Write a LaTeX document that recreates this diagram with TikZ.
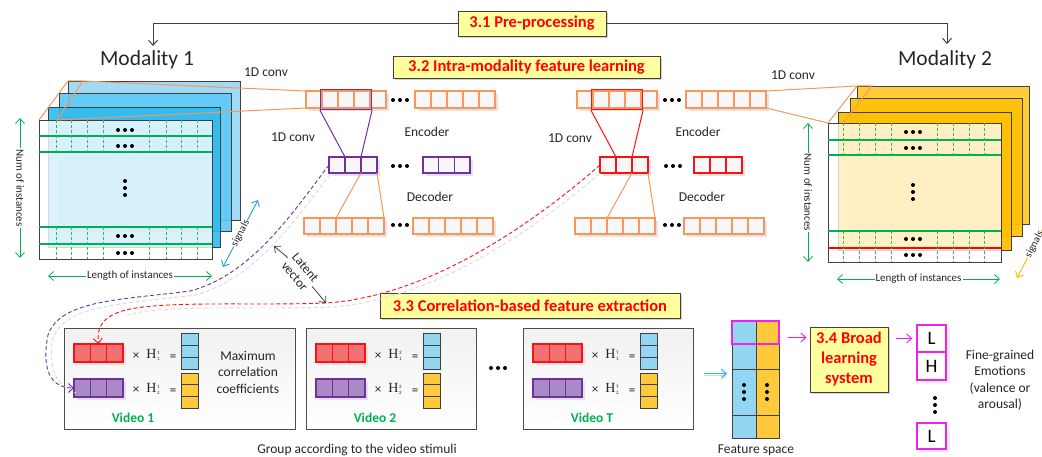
\documentclass[tikz,border=0pt]{standalone}
\usepackage{fontspec}
\setmainfont{Carlito}
\newfontfamily\serifH{Liberation Serif}
\usetikzlibrary{arrows.meta,shadows,calc,fit}

\definecolor{secyel}{HTML}{FFFF9E}
\definecolor{cor}{HTML}{F8965C}
\definecolor{cpur}{HTML}{7030A0}
\definecolor{cred}{HTML}{FF1010}
\definecolor{cgreen}{HTML}{00B050}
\definecolor{cblue}{HTML}{2A9AE0}
\definecolor{lblue}{HTML}{33BBEE}
\definecolor{bA}{HTML}{A0DAF5}
\definecolor{bB}{HTML}{5CC9F5}
\definecolor{bC}{HTML}{2FBAF0}
\definecolor{yA}{HTML}{FFCD38}
\definecolor{yB}{HTML}{FFC20A}
\definecolor{yC}{HTML}{FFC000}
\definecolor{colblue}{HTML}{93D6F2}
\definecolor{colyel}{HTML}{FFC93C}
\definecolor{barred}{HTML}{F07272}
\definecolor{barpur}{HTML}{A98AC6}
\definecolor{cmag}{HTML}{F020F0}
\definecolor{dgray}{HTML}{404040}
\definecolor{cgold}{HTML}{F5B800}
\definecolor{txt}{HTML}{262626}

% row of cells: name, x left, y top, n, w, h, style
\newcommand\cellrow[7]{%
  \fill[gray!22] (#2+3,#3+3) rectangle ++({#4*#5},#6);
  \foreach \i in {1,...,#4}{%
    \node[cell,#7,minimum width=#5,minimum height=#6] (#1-\i) at ({#2+(\i-0.5)*#5},{#3+#6/2}) {};}%
}
% column of cells: name, x left, y top, n, w, h, fill
\newcommand\cellcol[7]{%
  \foreach \i in {1,...,#4}{%
    \node[colcell,fill=#7,minimum width=#5,minimum height=#6] (#1-\i) at ({#2+#5/2},{#3+(\i-0.5)*#6}) {};}%
}
\newcommand\hthree[1]{\fill[black] #1 ++(-7,0) circle (2pt) ++(7,0) circle (2pt) ++(7,0) circle (2pt);}
\newcommand\vthree[1]{\fill[black] #1 ++(0,-7) circle (2pt) ++(0,7) circle (2pt) ++(0,7) circle (2pt);}
% H with stacked indices
\newcommand\Hlab[2]{{\serifH H}\kern0.6pt\raisebox{-1.5pt}{\fontsize{5}{6.5}\selectfont\shortstack[l]{#1\\#2}}}

% video panel: name, left x, width, superscript, label
\newcommand\videopanel[5]{%
  \node[vidbox,minimum width=#3,minimum height=101,anchor=north west] (#1) at (#2,328) {};
  \cellrow{#1r}{#2+10}{344}{3}{16.3}{18}{draw=cred,fill=barred}
  \cellrow{#1p}{#2+10}{379}{3}{16.3}{18}{draw=cpur,fill=barpur}
  \node[opl] (#1xa) at (#2+72,356) {×};
  \node[hl]  (#1ha) at (#2+89,355) {\Hlab{#4}{1}};
  \node[opl] (#1ea) at (#2+109,358) {=};
  \node[opl] (#1xb) at (#2+72,390) {×};
  \node[hl]  (#1hb) at (#2+89,389) {\Hlab{#4}{2}};
  \node[opl] (#1eb) at (#2+109,392) {=};
  \cellcol{#1b}{#2+117}{333}{3}{17}{12}{colblue}
  \cellcol{#1y}{#2+117}{373}{3}{17}{11.7}{colyel}
  \node[vidlab] (#1l) at (#2+69,418) {#5};
}

\begin{document}
\begin{tikzpicture}[x=1pt,y=-1pt,
  lbl/.style={font=\fontsize{13.5}{16.5}\selectfont,text=txt,inner sep=1pt},
  sm/.style={font=\fontsize{11}{13}\selectfont,text=txt,inner sep=1pt},
  modt/.style={font=\fontsize{21.5}{24}\selectfont,text=txt,inner sep=1pt},
  sec/.style={draw=dgray,line width=0.9pt,fill=secyel,text=red,
    font=\bfseries\fontsize{16.5}{20}\selectfont,inner sep=0pt,align=center,
    drop shadow={shadow xshift=2pt,shadow yshift=-2pt,fill=gray!60,opacity=0.6}},
  cell/.style={rectangle,inner sep=0pt,outer sep=0pt,line width=1.3pt,fill=gray!6},
  colcell/.style={rectangle,inner sep=0pt,outer sep=0pt,draw=dgray,line width=1pt},
  vidbox/.style={rectangle,draw=gray!60!black,line width=0.9pt,top color=gray!11,bottom color=white,inner sep=0pt},
  opl/.style={font=\fontsize{13}{14}\selectfont,text=txt,inner sep=0pt},
  hl/.style={font=\fontsize{14}{15}\selectfont,text=txt,inner sep=0pt},
  vidlab/.style={font=\bfseries\fontsize{13.5}{15}\selectfont,text=cgreen,inner sep=0pt},
  orl/.style={draw=cor,line width=1pt},
  layer/.style={draw=dgray,line width=0.9pt},
  gline/.style={draw=cgreen,line width=1.1pt},
  gdash/.style={draw=cgreen!85,line width=0.8pt,dash pattern=on 3pt off 2pt},
  barb/.style={-{Straight Barb[length=5pt,width=9pt]}},
  dbarb/.style={{Straight Barb[length=5pt,width=9pt]}-{Straight Barb[length=5pt,width=9pt]}},
  garr/.style={dbarb,draw=cgreen,line width=0.8pt},
  topl/.style={barb,draw=dgray,line width=1pt},
  latarr/.style={barb,draw=dgray,line width=0.8pt},
  pdash/.style={draw=cpur,line width=0.9pt,dash pattern=on 4pt off 2.5pt},
  rdash/.style={draw=cred,line width=0.9pt,dash pattern=on 4pt off 2.5pt},
  sdash/.style={draw=gray!30,line width=0.9pt,dash pattern=on 4pt off 2.5pt},
  marr/.style={barb,draw=cmag,line width=1pt},
  lbox/.style={rectangle,draw=cmag,line width=1.3pt,fill=white,inner sep=0pt,
    minimum width=29,font=\fontsize{19}{20}\selectfont,text=black,
    drop shadow={shadow xshift=4pt,shadow yshift=-3pt,fill=gray!15,opacity=1}}
]
\useasboundingbox (0,0) rectangle (1042,457);
\clip (0,0) rectangle (1042,457);

% ---------- top: pre-processing ----------
\node[sec,minimum width=148,minimum height=25] (s31) at (532,23.5) {3.1 Pre-processing};
\node[modt] (mod1) at (147,60) {Modality 1};
\node[modt] (mod2) at (945,60) {Modality 2};
\coordinate (m1top) at (153,46);
\coordinate (m2top) at (947,44);
\draw[topl] (s31.west) -| (m1top);
\draw[topl] (s31.east) -| (m2top);

% ---------- modality 1 stack ----------
\filldraw[layer,fill=bA] (68,81) rectangle (240,220);
\filldraw[layer,fill=bB,fill opacity=0.9] (59,93) rectangle (231,231);
\filldraw[layer,fill=bC,fill opacity=0.9] (48,107) rectangle (220,247);
\filldraw[layer,fill=white,fill opacity=0.8] (39,120) rectangle (212,259);
\foreach \yy in {136,152,227,244} \draw[gline] (39,\yy) -- (212,\yy);
\foreach \xx in {56,71,87,103,149,166,181,197}{
  \draw[gdash] (\xx,120) -- (\xx,152);
  \draw[gdash] (\xx,227) -- (\xx,259);}
\hthree{(125,130)} \hthree{(125,146)} \hthree{(125,236)} \hthree{(125,253)}
\vthree{(125,188)}
\draw[orl] (39,120) -- (68,81) -- (83,81) -- (57,120);

% ---------- modality 2 stack ----------
\filldraw[layer,fill=yA] (857,86) rectangle (1029,224);
\filldraw[layer,fill=yB,fill opacity=0.95] (850,98) rectangle (1022,236);
\filldraw[layer,fill=yC,fill opacity=0.95] (838,112) rectangle (1011,250);
\filldraw[layer,fill=white,fill opacity=0.76] (828,123) rectangle (1001,262);
\foreach \yy in {140,155,231} \draw[gline] (828,\yy) -- (1001,\yy);
\draw[draw=red,line width=1.1pt] (828,248) -- (1001,248);
\foreach \xx in {843,859,875,891,937,953,969,984}{
  \draw[gdash] (\xx,123) -- (\xx,155);
  \draw[gdash] (\xx,231) -- (\xx,262);}
\hthree{(913,132)} \hthree{(913,148)} \hthree{(913,239)} \hthree{(913,255)}
\vthree{(913,192)}
\draw[orl] (828,123) -- (857,86) -- (872,86) -- (843,123);

% axis arrows
\coordinate (n1a) at (20,118); \coordinate (n1b) at (20,258);
\draw[garr] (n1a) -- node[sm,fill=white,rotate=-90] (n1t) {Num of instances} (n1b);
\coordinate (l1a) at (48,276); \coordinate (l1b) at (212,276);
\draw[garr] (l1a) -- node[sm,fill=white] (l1t) {Length of instances} (l1b);
\coordinate (n2a) at (808,123); \coordinate (n2b) at (808,262);
\draw[garr] (n2a) -- node[sm,fill=white,rotate=-90] (n2t) {Num of instances} (n2b);
\coordinate (l2a) at (837,279); \coordinate (l2b) at (1000,279);
\draw[garr] (l2a) -- node[sm,fill=white] (l2t) {Length of instances} (l2b);
\coordinate (sg1a) at (223,267); \coordinate (sg1b) at (258,200);
\draw[dbarb,draw=cblue,line width=0.9pt] (sg1a) -- node[sloped,fill=white,inner sep=0.5pt,font=\fontsize{10.5}{12}\selectfont,text=txt] (sg1t) {signals} (sg1b);
\coordinate (sg2a) at (1017,278); \coordinate (sg2b) at (1052,211);
\draw[dbarb,draw=cgold,line width=0.9pt] (sg2a) -- node[sloped,fill=white,inner sep=0.5pt,font=\fontsize{10.5}{12}\selectfont,text=txt] (sg2t) {signals} (sg2b);

% ---------- 3.2 ----------
\node[sec,minimum width=267,minimum height=22] (s32) at (526.5,67) {3.2 Intra-modality feature learning};

% left encoder/decoder
\coordinate (fl1) at (83,81); \coordinate (fl2) at (57,120);
\coordinate (fr1) at (857,86); \coordinate (fr2) at (828,123);
\cellrow{E1a}{306}{91}{5}{16}{17}{draw=cor}
\cellrow{E1b}{415}{91}{5}{16}{17}{draw=cor}
\cellrow{M1a}{329}{157}{3}{16}{16}{draw=cpur}
\cellrow{M1b}{423}{157}{3}{15.7}{16}{draw=cpur}
\cellrow{D1a}{304}{218}{5}{16}{16}{draw=cor}
\cellrow{D1b}{413}{218}{5}{16}{16}{draw=cor}
\draw[orl] (fl1) -- (E1a-1.north west);
\draw[orl] (fl2) -- (E1a-1.south west);
\node[draw=cpur,line width=1.2pt,fit=(E1a-2)(E1a-4),inner sep=1.5pt] (P1) {};
\draw[draw=cpur,line width=1pt] (P1.south west) -- (M1a-2.north west);
\draw[draw=cpur,line width=1pt] (P1.south east) -- (M1a-2.north east);
\draw[orl] (M1a-2.south east) -- (D1a-3.north west);
\draw[orl] (M1a-3.south east) -- (D1a-5.north east);
\hthree{(400,100)} \hthree{(400,166)} \hthree{(400,225)}

% right encoder/decoder
\cellrow{E2a}{577}{91}{5}{16}{17}{draw=cor}
\cellrow{E2b}{686}{91}{5}{16}{17}{draw=cor}
\cellrow{M2a}{600}{157}{3}{16}{16}{draw=cred}
\cellrow{M2b}{694}{157}{3}{16}{16}{draw=cred}
\cellrow{D2a}{575}{218}{5}{16}{16}{draw=cor}
\cellrow{D2b}{684}{218}{5}{16}{16}{draw=cor}
\draw[orl] (E2b-5.north east) -- (fr1);
\draw[orl] (E2b-5.south east) -- (fr2);
\node[draw=cred,line width=1.2pt,fit=(E2a-2)(E2a-4),inner sep=1.5pt] (P2) {};
\draw[draw=cred,line width=1pt] (P2.south west) -- (M2a-2.north west);
\draw[draw=cred,line width=1pt] (P2.south east) -- (M2a-2.north east);
\draw[orl] (M2a-2.south east) -- (D2a-3.north west);
\draw[orl] (M2a-3.south east) -- (D2a-5.north east);
\hthree{(672,100)} \hthree{(673,166)} \hthree{(672,225)}

\node[lbl] (c1a) at (266,72) {1D conv};
\node[lbl] (c1b) at (293,137) {1D conv};
\node[lbl] (c2a) at (793,75) {1D conv};
\node[lbl] (c2b) at (570,138) {1D conv};
\node[lbl] (enc1) at (427,132) {Encoder};
\node[lbl] (dec1) at (430,197) {Decoder};
\node[lbl] (enc2) at (698,132) {Encoder};
\node[lbl] (dec2) at (702,197) {Decoder};

% ---------- 3.3 ----------
\node[sec,minimum width=300,minimum height=25] (s33) at (530,305.5) {3.3 Correlation-based feature extraction};

\videopanel{V1}{64}{231}{1}{Video 1}
\videopanel{V2}{306}{170}{2}{Video 2}
\videopanel{VT}{523}{170}{T}{Video T}
\node[lbl,align=center,font=\fontsize{13.5}{16.5}\selectfont] (maxc) at (248,372) {Maximum\\correlation\\coefficients};
\hthree{(498,368)}
\node[lbl] (grp) at (357,450) {Group according to the video stimuli};

% latent vector curves
\draw[sdash] ($(M1a-1.west)+(5,4)$) .. controls (296,219) and (256,279) .. (195,295) .. controls (125,304) and (66,304) .. (53,338) .. controls (49,360) and (51,384) .. ($(V1p-1.west)+(2,5)$);
\draw[sdash] ($(M2a-1.west)+(5,4)$) .. controls (525,239) and (425,301) .. (331,307) .. controls (255,310) and (165,304) .. (127,315);
\draw[pdash,barb] (M1a-1.west) .. controls (291,215) and (251,275) .. (190,291) .. controls (120,300) and (60,300) .. (48,335) .. controls (43,360) and (45,388) .. (V1p-1.west);
\draw[rdash,barb] (M2a-1.west) .. controls (520,235) and (420,297) .. (326,303) .. controls (250,306) and (160,300) .. (122,311) .. controls (100,318) and (97,330) .. (V1r-2.north);
\node[lbl,rotate=-50,align=center,font=\fontsize{13}{14}\selectfont] (LV) at (300,272) {Latent\\vector};
\coordinate (lvA) at (274,246);
\coordinate (lvB) at (326,303);
\draw[latarr,shorten <=1pt] (LV.west) -- (lvA);
\draw[latarr,shorten <=1pt] (LV.east) -- (lvB);

% ---------- feature space ----------
\foreach \k/\ya/\h in {1/321/23,2/344/25,3/369/46,4/415/23}{
  \node[colcell,fill=colblue,minimum width=24,minimum height=\h] (FSb-\k) at (744,\ya+\h/2) {};
  \node[colcell,fill=colyel,minimum width=23,minimum height=\h] (FSy-\k) at (767.5,\ya+\h/2) {};}
\node[draw=cmag,line width=1.3pt,fit=(FSb-1)(FSy-1),inner sep=0pt] (FSsel) {};
\vthree{(744,392)} \vthree{(767,392)}
\node[lbl] (fsl) at (756,450) {Feature space};
\draw[draw=gray!30,line width=1pt,barb] ($(VT.east)+(10,-3.5)$) -- ($(FSb-3.west |- VT.east)+(-5,-3.5)$);
\draw[draw=lblue,line width=1pt,barb] ($(VT.east)+(10,-5.5)$) -- ($(FSb-3.west |- VT.east)+(-5,-5.5)$);

% ---------- 3.4 ----------
\node[sec,minimum width=78,minimum height=65,font=\bfseries\fontsize{16.5}{20}\selectfont] (BLS) at (849,359.5) {3.4 Broad\\learning\\system};
\node[lbox,minimum height=27] (L1) at (931.5,338.5) {L};
\node[lbox,minimum height=28] (H1) at (931.5,366) {H};
\node[lbox,minimum height=26] (L2) at (931.5,436) {L};
\vthree{(935,405)}
\draw[marr] ($(FSsel.east)+(8,5)$) -- ($(BLS.west |- FSsel.east)+(-3,5)$);
\draw[marr] ($(BLS.east |- L1.west)+(8,0)$) -- ($(L1.west)+(-4,0)$);
\node[lbl,align=center] (fge) at (1000,380) {Fine-grained\\Emotions\\(valence or\\arousal)};
\end{tikzpicture}
\end{document}
